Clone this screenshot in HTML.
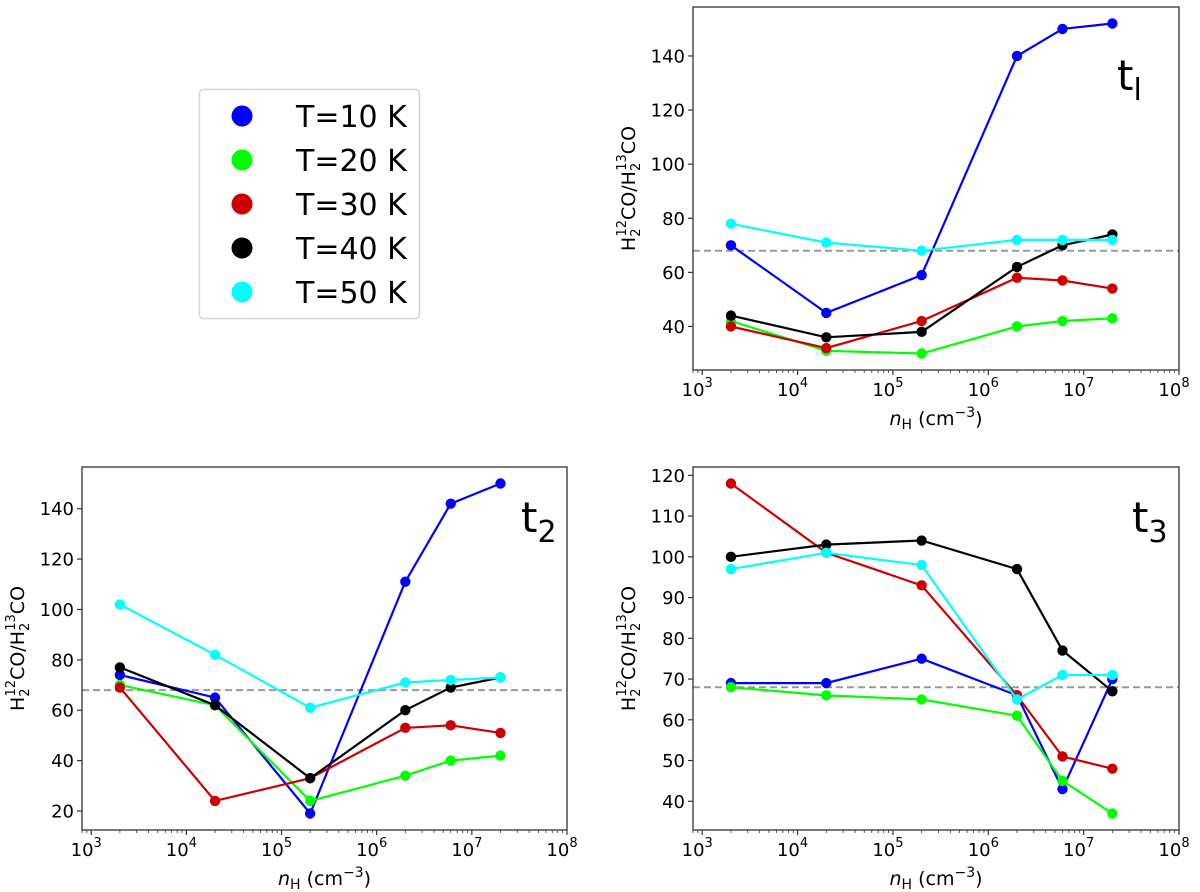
<!DOCTYPE html>
<html><head><meta charset="utf-8"><style>
html,body{margin:0;padding:0;background:#fff;}
svg{display:block;font-family:"DejaVu Sans","Liberation Sans",sans-serif;}
</style></head><body>
<svg id="fig" width="1200" height="892" viewBox="0 0 1200 892" xmlns="http://www.w3.org/2000/svg">
<g>
<rect x="199.5" y="89.5" width="220" height="229" rx="4" fill="#fff" stroke="#d5d5d5" stroke-width="1.5"/>
<circle cx="242" cy="116" r="10.5" fill="#0000ff"/>
<text x="296" y="127" font-size="30">T=10 K</text>
<circle cx="242" cy="160" r="10.5" fill="#00ff00"/>
<text x="296" y="171" font-size="30">T=20 K</text>
<circle cx="242" cy="204" r="10.5" fill="#cc0000"/>
<text x="296" y="215" font-size="30">T=30 K</text>
<circle cx="242" cy="248" r="10.5" fill="#000000"/>
<text x="296" y="259" font-size="30">T=40 K</text>
<circle cx="242" cy="292" r="10.5" fill="#00ffff"/>
<text x="296" y="303" font-size="30">T=50 K</text>
</g>
</svg>
<script>
const densities = [2e3, 2e4, 2e5, 2e6, 6e6, 2e7];
const seriesNames = ['T=10 K','T=20 K','T=30 K','T=40 K','T=50 K'];
const seriesColors = ['#0000ff','#00ff00','#cc0000','#000000','#00ffff'];
const refLine = 68;
const t1Values = [
  [70,45,59,140,150,152],
  [42,31,30,40,42,43],
  [40,32,42,58,57,54],
  [44,36,38,62,70,74],
  [78,71,68,72,72,72]
];
const t2Values = [
  [74,65,19,111,142,150],
  [70,62,24,34,40,42],
  [69,24,33,53,54,51],
  [77,62,33,60,69,73],
  [102,82,61,71,72,73]
];
const t3Values = [
  [69,69,75,66,43,70],
  [68,66,65,61,45,37],
  [118,101,93,66,51,48],
  [100,103,104,97,77,67],
  [97,101,98,65,71,71]
];
const t1Ticks = [40,60,80,100,120,140];
const t2Ticks = [20,40,60,80,100,120,140];
const t3Ticks = [40,50,60,70,80,90,100,110,120];
const xTickExps = [3,4,5,6,7,8];

const NS = 'http://www.w3.org/2000/svg';
const svg = document.getElementById('fig');
function mk(tag, attrs, parent){
  const e = document.createElementNS(NS, tag);
  for (const k in attrs) e.setAttribute(k, attrs[k]);
  (parent||svg).appendChild(e);
  return e;
}
function panel(id, L, R, T, B, values, ticks, label, lx, ly){
  const g = mk('g', {});
  
  
  let lo = Infinity, hi = -Infinity;
  values.forEach(s => s.forEach(v => { lo = Math.min(lo, v); hi = Math.max(hi, v); }));
  const m = (hi - lo) * 0.05; const ymin = lo - m, ymax = hi + m;
  const xmin = Math.log10(800), xmax = 8;
  const X = v => L + (Math.log10(v) - xmin) / (xmax - xmin) * (R - L);
  const Y = v => B - (v - ymin) / (ymax - ymin) * (B - T);
  const d = mk('line', {x1:L, x2:R, y1:Y(refLine), y2:Y(refLine), stroke:'#999', 'stroke-width':2, 'stroke-dasharray':'7,4'}, g);
  
  
  values.forEach((s, i) => {
    const sg = mk('g', {}, g);
    
    
    const pts = s.map((v, j) => X(densities[j]).toFixed(1) + ',' + Y(v).toFixed(1)).join(' ');
    const pl = mk('polyline', {points:pts, fill:'none', stroke:seriesColors[i], 'stroke-width':2.2}, sg);
    
    
    s.forEach((v, j) => {
      const c = mk('circle', {cx:X(densities[j]), cy:Y(v), r:5.2, fill:seriesColors[i]}, sg);
      
      
    });
  });
  const fr = mk('rect', {x:L, y:T, width:R-L, height:B-T, fill:'none', stroke:'#333', 'stroke-width':1.3}, g);
  
  
  ticks.forEach(t => {
    const y = Y(t);
    mk('line', {x1:L-5, x2:L, y1:y, y2:y, stroke:'#333', 'stroke-width':1.2}, g);
    const tx = mk('text', {x:L-8, y:y+6.5, 'font-size':18, 'text-anchor':'end', fill:'#000'}, g);
    
    
    tx.textContent = t;
  });
  xTickExps.forEach(e => {
    const x = X(Math.pow(10, e));
    mk('line', {x1:x, x2:x, y1:B, y2:B+5, stroke:'#333', 'stroke-width':1.2}, g);
    const tx = mk('text', {x:x-5, y:B+26, 'font-size':18, 'text-anchor':'middle', fill:'#000'}, g);
    
    
    tx.textContent = '10';
    const sp = mk('tspan', {dy:-9, 'font-size':13}, tx);
    sp.textContent = e;
    if (e < 8) for (let k = 2; k <= 9; k++){
      const xm = X(k * Math.pow(10, e));
      mk('line', {x1:xm, x2:xm, y1:B, y2:B+3, stroke:'#333', 'stroke-width':0.8}, g);
    }
  });
  for (let k = 8; k <= 9; k++){ const xm = X(k*100); mk('line', {x1:xm, x2:xm, y1:B, y2:B+3, stroke:'#333', 'stroke-width':0.8}, g); }
  const xl = mk('text', {x:(L+R)/2, y:B+55, 'font-size':19, 'text-anchor':'middle'}, g);
  
  
  const a = mk('tspan', {'font-style':'italic'}, xl); a.textContent = 'n';
  const b = mk('tspan', {dy:4, 'font-size':14}, xl); b.textContent = 'H';
  const c = mk('tspan', {dy:-4}, xl); c.textContent = ' (cm';
  const dd = mk('tspan', {dy:-8, 'font-size':14}, xl); dd.textContent = '−3';
  const e2 = mk('tspan', {dy:8}, xl); e2.textContent = ')';
  const yx = L - 58, yy = (T + B) / 2;
  const yl = mk('text', {x:yx, y:yy, 'font-size':19, 'text-anchor':'middle', transform:'rotate(-90 '+yx+' '+yy+')'}, g);
  
  
  const parts = [['H',0,19],['2',5,13],['12',-14,13],['CO/H',9,19],['2',5,13],['13',-14,13],['CO',9,19]];
  const dx = [0,0,-8,0,0,-8,0];
  parts.forEach((p, i) => { const s = mk('tspan', {dy:p[1], 'font-size':p[2], dx:dx[i]}, yl); s.textContent = p[0]; });
  const pl = mk('text', {x:lx, y:ly, 'font-size':42}, g);
  
  
  pl.textContent = 't';
  const sub = mk('tspan', {dy:10, 'font-size':30}, pl); sub.textContent = label;
}
panel('t1', 693, 1179, 7, 370, t1Values, t1Ticks, 'l', 1117, 90);
panel('t2', 82, 567, 467, 830, t2Values, t2Ticks, '2', 521, 532);
panel('t3', 693, 1179, 467, 830, t3Values, t3Ticks, '3', 1132, 532);
</script>
</body></html>
